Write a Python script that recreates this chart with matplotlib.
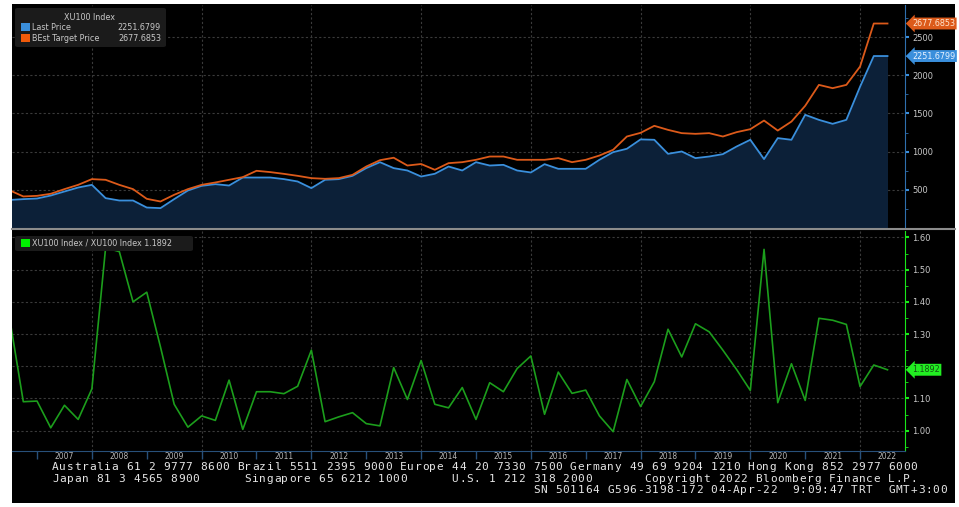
import numpy as np
import pandas as pd
import matplotlib
matplotlib.use("Agg")
import matplotlib.pyplot as plt
from matplotlib.patches import Rectangle, FancyBboxPatch
from matplotlib.ticker import MultipleLocator, FixedLocator
import matplotlib.transforms as mtransforms

# quarterly points, plotted at quarter end (Q2 2006 .. Q2 2022)
quarters = pd.period_range("2006Q2", "2022Q2", freq="Q")

last_price = [367, 378, 386, 425, 478, 530, 565, 391, 360, 360,
              268, 260, 378, 491, 552, 574, 556, 661, 661, 661,
              640, 609, 522, 631, 640, 683, 784, 862, 784, 753,
              674, 710, 805, 753, 862, 818, 827, 753, 727, 836,
              775, 775, 775, 893, 993, 1037, 1160, 1155, 971, 1002,
              915, 936, 967, 1067, 1155, 902, 1177, 1155, 1482, 1416,
              1364, 1416, 1850, 2251.6799, 2251.6799]

target_price = [494, 413, 421, 448, 509, 565, 640, 631, 565, 509,
                382, 347, 435, 509, 565, 596, 631, 666, 749, 732,
                709, 683, 653, 644, 653, 696, 805, 888, 920, 818,
                838, 762, 849, 862, 893, 936, 936, 893, 893, 893,
                915, 862, 893, 949, 1024, 1198, 1246, 1338, 1285, 1242,
                1233, 1242, 1198, 1255, 1294, 1407, 1276, 1394, 1600, 1874,
                1831, 1874, 2114, 2677.6853, 2677.6853]

ratio = [1.35, 1.09, 1.092, 1.009, 1.079, 1.035, 1.13, 1.568, 1.556, 1.40,
         1.43, 1.26, 1.082, 1.011, 1.046, 1.032, 1.157, 1.004, 1.121, 1.121,
         1.115, 1.138, 1.25, 1.028, 1.043, 1.056, 1.022, 1.015, 1.196, 1.097,
         1.218, 1.082, 1.071, 1.134, 1.035, 1.149, 1.121, 1.193, 1.232, 1.051,
         1.182, 1.116, 1.126, 1.046, 0.997, 1.159, 1.075, 1.152, 1.315, 1.229,
         1.332, 1.307, 1.25, 1.19, 1.125, 1.563, 1.087, 1.208, 1.094, 1.349,
         1.343, 1.33, 1.137, 1.204, 1.1892]

years = list(range(2007, 2023))
top_ticks = [500, 1000, 1500, 2000, 2500]
bot_ticks = [1.0, 1.1, 1.3, 1.4, 1.5, 1.6]

footer = [
    "Australia 61 2 9777 8600 Brazil 5511 2395 9000 Europe 44 20 7330 7500 Germany 49 69 9204 1210 Hong Kong 852 2977 6000",
    "Japan 81 3 4565 8900      Singapore 65 6212 1000      U.S. 1 212 318 2000       Copyright 2022 Bloomberg Finance L.P.",
    "SN 501164 G596-3198-172 04-Apr-22  9:09:47 TRT  GMT+3:00",
]

x = np.array([p.year + p.quarter / 4 for p in quarters])

# colours
BLUE = "#3a8fdc"
ORANGE = "#dc5a1a"
FILL = "#0c2038"
GREEN = "#1c9e1c"
BRIGHT_GREEN = "#19e619"
GRID = "#3a3a3a"
TXT = "#c8c8c8"

W, H = 959, 507
fig = plt.figure(figsize=(W / 100, H / 100), dpi=100, facecolor="white")


def fx(px):
    return px / W


def fy(py):
    return 1 - py / H


# black terminal background
fig.patches.append(Rectangle((fx(12), fy(503)), fx(955) - fx(12), fy(4) - fy(503),
                             transform=fig.transFigure, facecolor="black",
                             edgecolor="none", zorder=-5))

xmin, xmax = 2006.544, 2022.819
ax1 = fig.add_axes([fx(12), fy(228), fx(905) - fx(12), fy(5) - fy(228)])
ax2 = fig.add_axes([fx(12), fy(451), fx(905) - fx(12), fy(231) - fy(451)])

for ax in (ax1, ax2):
    ax.set_facecolor("black")
    ax.set_xlim(xmin, xmax)
    for s in ("top", "left", "bottom"):
        ax.spines[s].set_visible(False)
    ax.yaxis.tick_right()
    for yr in range(2008, 2023, 2):
        ax.axvline(yr, color=GRID, lw=0.8, ls=(0, (2, 2)), zorder=1)

# ---- top panel
ax1.fill_between(x, 0, last_price, color=FILL, zorder=2, lw=0)
ax1.plot(x, last_price, color=BLUE, lw=1.3, zorder=3)
ax1.plot(x, target_price, color=ORANGE, lw=1.3, zorder=4)
ax1.set_ylim(0, 2920)
ax1.yaxis.set_major_locator(FixedLocator(top_ticks))
ax1.yaxis.set_minor_locator(MultipleLocator(250))
for v in top_ticks:
    ax1.axhline(v, color=GRID, lw=0.8, ls=(0, (2, 2)), zorder=1)
ax1.spines["right"].set_color("#2f6fae")
ax1.tick_params(axis="y", which="major", colors="#3a8fdc", length=3, width=1.5,
                labelsize=6, labelcolor=TXT, pad=2)
ax1.tick_params(axis="y", which="minor", colors="#2f6fae", length=2, width=0.6)
ax1.set_xticks([])

# ---- bottom panel
ax2.plot(x, ratio, color=GREEN, lw=1.2, zorder=3)
ax2.set_ylim(0.937, 1.620)
ax2.yaxis.set_major_locator(FixedLocator(bot_ticks))
ax2.yaxis.set_minor_locator(MultipleLocator(0.05))
ax2.yaxis.set_major_formatter(lambda v, p: f"{v:.2f}")
for v in np.arange(1.0, 1.65, 0.1):
    ax2.axhline(v, color=GRID, lw=0.8, ls=(0, (2, 2)), zorder=1)
ax2.spines["right"].set_color(BRIGHT_GREEN)
ax2.spines["bottom"].set_visible(True)
ax2.spines["bottom"].set_color("#28507a")
ax2.tick_params(axis="y", which="major", colors=BRIGHT_GREEN, length=3, width=1.5,
                labelsize=6, labelcolor=TXT, pad=2)
ax2.tick_params(axis="y", which="minor", colors=BRIGHT_GREEN, length=2, width=0.6)
ax2.set_xticks(years)
ax2.set_xticklabels([])
ax2.set_xticks([y + 0.5 for y in years], minor=True)
ax2.set_xticklabels([str(y) for y in years], minor=True)
ax2.tick_params(axis="x", which="major", colors="#28507a", length=6, width=1)
ax2.tick_params(axis="x", which="minor", length=0, labelsize=5.5, labelcolor="#b8b8b8", pad=1)

# value tags on the right axis
for ax, val, label, fc, tc in [(ax1, 2677.6853, "2677.6853", ORANGE, "#ffe6d0"),
                               (ax1, 2251.6799, "2251.6799", BLUE, "#e8f2ff"),
                               (ax2, 1.1892, "1.1892", "#22ee22", "#145014")]:
    tr = mtransforms.blended_transform_factory(ax.transAxes, ax.transData)
    ax.text(1.008, val, label, transform=tr, fontsize=5.8, color=tc, va="center", ha="left",
            clip_on=False, zorder=10,
            bbox=dict(boxstyle="larrow,pad=0.18", fc=fc, ec="none"))

# separator between the panels
fig.add_artist(plt.Line2D([fx(12), fx(955)], [fy(228.5), fy(228.5)], color="#8c8c8c", lw=1.5))

# legends
def box(x0, y0, x1, y1):
    fig.patches.append(FancyBboxPatch((fx(x0), fy(y1)), fx(x1) - fx(x0), fy(y0) - fy(y1),
                                      boxstyle="round,pad=0,rounding_size=0.003",
                                      transform=fig.transFigure, facecolor="#1b1b1b",
                                      edgecolor="none", zorder=5))


def square(x0, y0, c):
    fig.patches.append(Rectangle((fx(x0), fy(y0 + 8)), fx(9), 8 / H,
                                 transform=fig.transFigure, facecolor=c, edgecolor="none",
                                 zorder=6))


box(15, 8, 166, 47)
fig.text(fx(90), fy(17), "XU100 Index", color=TXT, fontsize=5.8, ha="center", va="center", zorder=7)
square(21, 23, BLUE)
fig.text(fx(32), fy(27.5), "Last Price", color=TXT, fontsize=5.8, va="center", zorder=7)
fig.text(fx(161), fy(27.5), "2251.6799", color=TXT, fontsize=5.8, va="center", ha="right", zorder=7)
square(21, 34, "#f05a0a")
fig.text(fx(32), fy(38.5), "BEst Target Price", color=TXT, fontsize=5.8, va="center", zorder=7)
fig.text(fx(161), fy(38.5), "2677.6853", color=TXT, fontsize=5.8, va="center", ha="right", zorder=7)

box(15, 236, 193, 251)
square(21, 239, "#00f000")
fig.text(fx(32), fy(243.5), "XU100 Index / XU100 Index 1.1892", color=TXT, fontsize=5.8,
         va="center", zorder=7)


# footer: fixed character grid like the terminal font
def mono_line(text, x0, y0, step):
    for i, ch in enumerate(text):
        if ch != " ":
            fig.text(fx(x0 + i * step), fy(y0), ch, family="DejaVu Sans Mono", fontsize=8,
                     color="#e6e6e6", va="center", ha="left")


mono_line(footer[0], 52, 467, 7.4)
mono_line(footer[1], 52, 479, 7.4)
mono_line(footer[2], 533, 490, 7.4)

fig.savefig("out.png", dpi=100, facecolor="white")
